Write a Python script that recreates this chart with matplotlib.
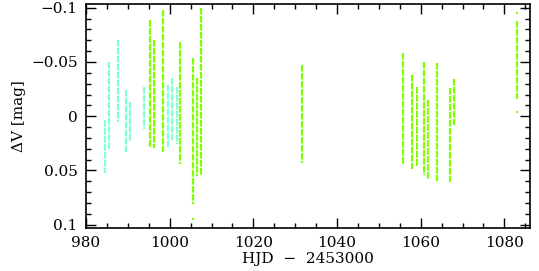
import matplotlib
matplotlib.use("Agg")
import matplotlib.pyplot as plt
from matplotlib.ticker import MultipleLocator

# nightly light-curve columns (HJD - 2453000, dV range in mag)
cyan_hjd = [984.5, 985.6, 987.6, 989.6, 990.6, 993.8, 999.7, 1000.6, 1001.7]
cyan_lo = [0.003, -0.050, -0.070, -0.024, -0.013, -0.027, -0.029, -0.035, -0.027]
cyan_hi = [0.052, 0.031, 0.005, 0.033, 0.023, 0.012, 0.028, 0.022, 0.026]

green_hjd = [995.4, 996.3, 998.4, 1002.5, 1005.5, 1006.5, 1007.6, 1031.7,
             1055.8, 1057.8, 1059.0, 1060.8, 1061.8, 1064.0, 1067.0, 1068.0, 1083.1]
green_lo = [-0.089, -0.070, -0.098, -0.068, -0.054, -0.035, -0.100, -0.047,
            -0.058, -0.038, -0.027, -0.050, -0.015, -0.049, -0.026, -0.034, -0.088]
green_hi = [0.029, 0.029, 0.033, 0.044, 0.081, 0.055, 0.054, 0.043,
            0.044, 0.049, 0.046, 0.054, 0.058, 0.060, 0.061, 0.008, -0.016]

# isolated points
out_hjd = [1005.5, 1083.1, 1083.1]
out_dv = [0.095, -0.095, -0.004]

CYAN = "#80ffd8"
GREEN = "#80ff00"

plt.rcParams["font.family"] = ["DejaVu Serif"]

fig = plt.figure(figsize=(5.39, 2.71), dpi=100)
ax = fig.add_axes([0.1596, 0.1587, 0.8228, 0.8247])

ax.vlines(cyan_hjd, cyan_lo, cyan_hi, colors=CYAN, linewidth=1.6,
          linestyles=(0, (3, 0.6)))
ax.vlines(green_hjd, green_lo, green_hi, colors=GREEN, linewidth=1.6,
          linestyles=(0, (3, 0.6)))
ax.scatter(out_hjd, out_dv, s=2, marker="s", color=GREEN, linewidths=0)

ax.set_xlim(980, 1086)
ax.set_ylim(0.103, -0.103)

ax.xaxis.set_major_locator(MultipleLocator(20))
ax.xaxis.set_minor_locator(MultipleLocator(5))
ax.yaxis.set_minor_locator(MultipleLocator(0.01))
ax.set_yticks([-0.1, -0.05, 0, 0.05, 0.1])
ax.set_yticklabels(["\u22120.1", "\u22120.05", "0", "0.05", "0.1"])

ax.tick_params(which="both", direction="in", top=True, right=True,
               labelsize=11, width=1.0, pad=6)
ax.tick_params(which="major", length=7)
ax.tick_params(which="minor", length=3.5)
for s in ax.spines.values():
    s.set_linewidth(1.2)

ax.set_xlabel("HJD  \u2212  2453000", fontsize=11, labelpad=1)
ax.set_ylabel("\u0394V [mag]", fontsize=11, labelpad=4)

fig.savefig("out.png", dpi=100)
